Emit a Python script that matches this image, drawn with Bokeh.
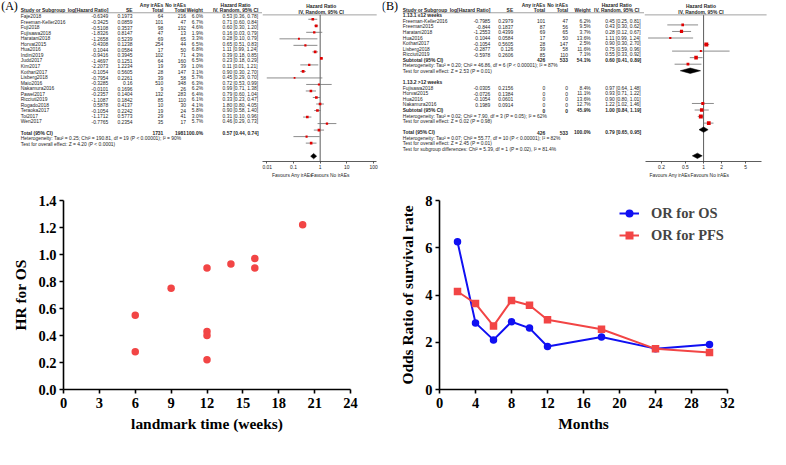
import math
from bokeh.plotting import figure
from bokeh.layouts import row, column
from bokeh.models import (Range1d, FixedTicker, LogAxis, Label, ColumnDataSource,
                          Legend, LegendItem, PrintfTickFormatter, CustomJSTickFormatter)
from bokeh.core.properties import value
from bokeh.embed import file_html
from bokeh.resources import INLINE

# ---------------- data: panel A (overall) ----------------
a_study = ["Faje2018", "Freeman-Keller2016", "Fuji2018", "Fujisawa2018", "Haratani2018",
           "Horvat2015", "Hua2016", "Indini2019", "Judd2017", "Kim2017", "Kothari2017",
           "Lisberg2018", "Maio2016", "Nakamura2016", "Pawel2017", "Ricciuti2019",
           "Rogado2018", "Teraoka2017", "Toi2017", "Wen2017"]
a_loghr = [-0.6349, -0.3425, -0.5108, -1.8326, -1.2658, -0.4308, 0.1044, -0.9416, -1.4697,
           -2.2073, -0.1054, -0.7954, -0.3285, -0.0101, -0.2357, -1.1087, 0.5878, -0.1054,
           -1.1712, -0.7765]
a_se = [0.1973, 0.0859, 0.3537, 0.8147, 0.5239, 0.1238, 0.0584, 0.3945, 0.1251, 1.2234,
        0.5605, 0.2261, 0.16, 0.1696, 0.1404, 0.1842, 0.4137, 0.2242, 0.5773, 0.2354]
a_n1 = [64, 101, 98, 47, 69, 254, 17, 102, 64, 19, 28, 39, 510, 9, 132, 85, 10, 19, 29, 35]
a_n2 = [216, 47, 192, 13, 65, 44, 50, 71, 160, 39, 147, 58, 348, 26, 283, 110, 30, 24, 41, 17]
a_w = [6.0, 6.7, 4.6, 1.9, 3.3, 6.5, 6.8, 4.3, 6.5, 1.0, 3.1, 5.7, 6.3, 6.2, 6.4, 6.1,
       4.1, 5.8, 3.0, 5.7]
a_hr = [0.53, 0.71, 0.60, 0.16, 0.28, 0.65, 1.11, 0.39, 0.23, 0.11, 0.90, 0.45, 0.72, 0.99,
        0.79, 0.33, 1.80, 0.90, 0.31, 0.46]
a_lo = [0.36, 0.60, 0.30, 0.03, 0.10, 0.51, 0.99, 0.18, 0.18, 0.01, 0.30, 0.29, 0.53, 0.71,
        0.60, 0.23, 0.80, 0.58, 0.10, 0.29]
a_hi = [0.78, 0.84, 1.20, 0.79, 0.79, 0.83, 1.24, 0.85, 0.29, 1.21, 2.70, 0.70, 0.99, 1.38,
        1.04, 0.47, 4.05, 1.40, 0.96, 0.73]
a_total = {"n1": 1731, "n2": 1981, "w": 100.0, "hr": 0.57, "lo": 0.44, "hi": 0.74}
a_het = "Heterogeneity: Tau\u00b2 = 0.25; Chi\u00b2 = 190.81, df = 19 (P < 0.00001); I\u00b2 = 90%"
a_test = "Test for overall effect: Z = 4.20 (P < 0.0001)"
a_ticks = [0.01, 0.1, 1, 10, 100]

# ---------------- data: panel B (subgroups by landmark) ----------------
b1_title = "1.13.1 \u226412 weeks"
b1_study = ["Freeman-Keller2016", "Freeman2015", "Haratani2018", "Hua2016", "Kothari2017",
            "Lisberg2018", "Ricciuti2019"]
b1_loghr = [-0.7985, -0.844, -1.2553, 0.1044, -0.1054, -0.2877, -0.5978]
b1_se = [0.2979, 0.1837, 0.4399, 0.0584, 0.5605, 0.126, 0.2606]
b1_n1 = [101, 87, 69, 17, 28, 39, 85]
b1_n2 = [47, 56, 65, 50, 147, 58, 110]
b1_w = [6.2, 9.5, 3.7, 13.6, 2.5, 11.6, 7.1]
b1_hr = [0.45, 0.43, 0.28, 1.11, 0.90, 0.75, 0.55]
b1_lo = [0.25, 0.30, 0.12, 0.99, 0.30, 0.59, 0.33]
b1_hi = [0.81, 0.62, 0.67, 1.24, 2.70, 0.96, 0.92]
b1_sub = {"n1": 426, "n2": 533, "w": 54.1, "hr": 0.60, "lo": 0.41, "hi": 0.89}
b1_het = "Heterogeneity: Tau\u00b2 = 0.20; Chi\u00b2 = 46.86, df = 6 (P < 0.00001); I\u00b2 = 87%"
b1_test = "Test for overall effect: Z = 2.53 (P = 0.01)"

b2_title = "1.13.2 >12 weeks"
b2_study = ["Fujisawa2018", "Horvat2015", "Hua2016", "Nakamura2016"]
b2_loghr = [-0.0305, -0.0726, -0.1054, 0.1989]
b2_se = [0.2156, 0.1384, 0.0601, 0.0914]
b2_n1 = [0, 0, 0, 0]
b2_n2 = [0, 0, 0, 0]
b2_w = [8.4, 11.1, 13.6, 12.7]
b2_hr = [0.97, 0.93, 0.90, 1.22]
b2_lo = [0.64, 0.71, 0.80, 1.02]
b2_hi = [1.48, 1.22, 1.01, 1.46]
b2_sub = {"n1": 0, "n2": 0, "w": 45.9, "hr": 1.00, "lo": 0.84, "hi": 1.19}
b2_het = "Heterogeneity: Tau\u00b2 = 0.02; Chi\u00b2 = 7.90, df = 3 (P = 0.05); I\u00b2 = 62%"
b2_test = "Test for overall effect: Z = 0.02 (P = 0.98)"

b_total = {"n1": 426, "n2": 533, "w": 100.0, "hr": 0.79, "lo": 0.65, "hi": 0.95}
b_het = "Heterogeneity: Tau\u00b2 = 0.07; Chi\u00b2 = 55.77, df = 10 (P < 0.00001); I\u00b2 = 82%"
b_test = "Test for overall effect: Z = 2.45 (P = 0.01)"
b_sub_test = "Test for subgroup differences: Chi\u00b2 = 5.39, df = 1 (P = 0.02), I\u00b2 = 81.4%"
b_ticks = [0.2, 0.5, 1, 2, 5]

# ---------------- data: panel C ----------------
c_weeks = [6, 6, 9, 12, 12, 12, 12, 14, 16, 16, 20]
c_hr = [0.55, 0.28, 0.75, 0.90, 0.43, 0.40, 0.22, 0.93, 0.97, 0.90, 1.22]
c_xticks = [0, 3, 6, 9, 12, 15, 18, 21, 24]
c_yticks = [0.0, 0.2, 0.4, 0.6, 0.8, 1.0, 1.2, 1.4]

# ---------------- data: panel D ----------------
d_months = [2, 4, 6, 8, 10, 12, 18, 24, 30]
d_or_os = [6.25, 2.82, 2.10, 2.87, 2.60, 1.82, 2.22, 1.73, 1.90]
d_or_pfs = [4.15, 3.64, 2.69, 3.77, 3.57, 2.95, 2.55, 1.72, 1.57]
d_xticks = [0, 4, 8, 12, 16, 20, 24, 28, 32]
d_yticks = [0, 2, 4, 6, 8]

# ---------------- layout constants ----------------
W, H = 770, 449
SX, SY = W / 786.0, H / 465.0
H_TOP = 189
H_BOT = H - H_TOP
SANS = "Liberation Sans"
SERIF = "Liberation Serif"
TXT = "#1e1e1e"
FRED = "#e00000"
RED = "#f24545"
BLUE = "#1010f2"
FS = 5.1   # table font (reference px)


def fpx(px):
    return f"{px * SY:.2f}px"


def table_fig(px0, px1):
    p = figure(width=px1 - px0, height=H_TOP, x_range=Range1d(px0 / SX, px1 / SX),
               y_range=Range1d(H_TOP / SY, 0), x_axis_type=None, y_axis_type=None,
               toolbar_location=None, output_backend="svg", min_border=0,
               outline_line_color=None)
    return p


def put_text(p, x, ys, texts, align="left", bold=False, size=FS, font=SANS, color=TXT):
    src = ColumnDataSource(dict(x=[x] * len(ys), y=list(ys), t=[str(t) for t in texts]))
    p.text(x="x", y="y", text="t", source=src, text_align=align, text_baseline="middle",
           text_font=value(font), text_font_size=fpx(size),
           text_font_style="bold" if bold else "normal", text_color=color)


def forest_fig(px0, px1, x_one, dec, frame_px):
    def L(xr):
        return 10 ** ((xr - x_one) / dec)
    p = figure(width=px1 - px0, height=H_TOP, x_axis_type="log", y_axis_type=None,
               x_range=Range1d(L(px0 / SX), L(px1 / SX)), y_range=Range1d(frame_px / SY, 0),
               toolbar_location=None, output_backend="svg", min_border=0,
               min_border_bottom=H_TOP - frame_px, outline_line_color=None)
    p.grid.visible = False
    return p, L


def forest_axis(p, ticks, bounds, fav_pos):
    ax = p.xaxis[0]
    ax.ticker = FixedTicker(ticks=ticks, minor_ticks=[])
    ax.formatter = PrintfTickFormatter(format="%g")
    ax.bounds = bounds
    ax.major_tick_out = 2
    ax.major_tick_in = 0
    ax.minor_tick_line_color = None
    ax.axis_line_width = 0.8
    ax.axis_line_color = "#333333"
    ax.major_tick_line_color = "#333333"
    ax.major_tick_line_width = 0.8
    ax.major_label_text_font = SANS
    ax.major_label_text_font_size = fpx(FS)
    ax.major_label_text_color = TXT
    ax.major_label_standoff = 1
    ax2 = LogAxis(ticker=FixedTicker(ticks=fav_pos, minor_ticks=[]),
                  formatter=CustomJSTickFormatter(
                      code="return index == 0 ? 'Favours Any irAEs' : 'Favours No irAEs';"),
                  axis_line_color=None, major_tick_line_color=None, minor_tick_line_color=None,
                  major_tick_out=0, major_tick_in=0, major_label_standoff=1,
                  major_label_text_font=SANS, major_label_text_font_size=fpx(FS),
                  major_label_text_color=TXT)
    p.add_layout(ax2, "below")


def draw_forest(p, ys, hr, lo, hi, w):
    src = ColumnDataSource(dict(y=ys, hr=hr, lo=lo, hi=hi, s=[1.6 + 0.17 * v for v in w]))
    p.segment(x0="lo", y0="y", x1="hi", y1="y", source=src, line_color="#6e6e6e",
              line_width=0.8)
    p.scatter(x="hr", y="y", size="s", marker="square", source=src, fill_color=FRED,
              line_color=None)


def draw_diamonds(p, ys, summaries, half=2.8):
    xs = [[s["lo"], s["hr"], s["hi"], s["hr"]] for s in summaries]
    yy = [[y, y - half, y, y + half] for y in ys]
    p.patches(xs=xs, ys=yy, fill_color="black", line_color="black", line_width=0.5)


def fmt_ci(hr, lo, hi):
    return f"{hr:.2f} [{lo:.2f}, {hi:.2f}]"


# ================= Panel A =================
A_T0, A_T1, A_F1 = 0, 262, 382
A_FRAME = 161
pa_t = table_fig(A_T0, A_T1)
pa_f, LA = forest_fig(A_T1, A_F1, 326.3, 27.25, A_FRAME)

a_y = [19.45 + 6.75 * k for k in range(len(a_study))]
a_tot_y = 19.45 + 6.75 * 21
a_het_y = a_tot_y + 6.75
a_test_y = a_het_y + 6.75
A_NAME, A_LOG, A_SE, A_N1, A_N2, A_W, A_CI = 20.7, 110, 134.7, 166.2, 189.3, 206.7, 226.7

put_text(pa_t, 9.2, [6.7], ["(A)"], align="center", size=12.5, font=SERIF, color="black")
put_text(pa_t, A_NAME, [12.7], ["Study or Subgroup"], bold=True)
put_text(pa_t, A_LOG, [12.7], ["log[Hazard Ratio]"], align="right", bold=True)
put_text(pa_t, A_SE, [12.7], ["SE"], align="right", bold=True)
put_text(pa_t, A_N1, [6.2, 12.7], ["Any irAEs", "Total"], align="right", bold=True)
put_text(pa_t, A_N2, [6.2, 12.7], ["No irAEs", "Total"], align="right", bold=True)
put_text(pa_t, A_W, [12.7], ["Weight"], align="right", bold=True)
put_text(pa_t, 240.0, [6.2, 12.7], ["Hazard Ratio", "IV, Random, 95% CI"], align="center",
         bold=True)
pa_t.segment(x0=[A_NAME], y0=[14.9], x1=[A_T1 / SX], y1=[14.9], line_color="#8a8a8a",
             line_width=0.8)

put_text(pa_t, A_NAME, a_y, a_study)
put_text(pa_t, A_LOG, a_y, a_loghr, align="right")
put_text(pa_t, A_SE, a_y, a_se, align="right")
put_text(pa_t, A_N1, a_y, a_n1, align="right")
put_text(pa_t, A_N2, a_y, a_n2, align="right")
put_text(pa_t, A_W, a_y, [f"{v:.1f}%" for v in a_w], align="right")
put_text(pa_t, A_CI, a_y, [fmt_ci(h, l, u) for h, l, u in zip(a_hr, a_lo, a_hi)])

put_text(pa_t, A_NAME, [a_tot_y], ["Total (95% CI)"], bold=True)
put_text(pa_t, A_N1, [a_tot_y], [a_total["n1"]], align="right", bold=True)
put_text(pa_t, A_N2, [a_tot_y], [a_total["n2"]], align="right", bold=True)
put_text(pa_t, A_W, [a_tot_y], [f"{a_total['w']:.1f}%"], align="right", bold=True)
put_text(pa_t, A_CI, [a_tot_y], [fmt_ci(a_total["hr"], a_total["lo"], a_total["hi"])],
         bold=True)
put_text(pa_t, A_NAME, [a_het_y, a_test_y], [a_het, a_test])

# forest A
put_text(pa_f, LA(327.4), [6.2, 12.7], ["Hazard Ratio", "IV, Random, 95% CI"],
         align="center", bold=True)
pa_f.segment(x0=[LA(A_T1 / SX)], y0=[14.9], x1=[LA(384)], y1=[14.9], line_color="#8a8a8a",
             line_width=0.8)
pa_f.segment(x0=[1], y0=[14.9], x1=[1], y1=[A_FRAME / SY], line_color="#333333",
             line_width=0.8)
draw_forest(pa_f, a_y, a_hr, a_lo, a_hi, a_w)
draw_diamonds(pa_f, [a_tot_y], [a_total])
forest_axis(pa_f, a_ticks, (0.007, 125), [LA(298.0), LA(336.5)])

# ================= Panel B =================
B_T0, B_T1, B_F1 = 382, 644, 770
pb_t = table_fig(B_T0, B_T1)
pb_f, LB = forest_fig(B_T1, B_F1, 717.7, 61.5, A_FRAME)


def by(k):
    return 18.5 + 6.78 * (k - 1)


B_NAME, B_LOG, B_SE, B_N1, B_N2, B_W, B_CI = 410.7, 500, 523.3, 556, 579.3, 602.5, 617.3

put_text(pb_t, 397.5, [7.0], ["(B)"], align="center", size=12.5, font=SERIF, color="black")
put_text(pb_t, B_NAME, [12.7], ["Study or Subgroup"], bold=True)
put_text(pb_t, B_LOG, [12.7], ["log[Hazard Ratio]"], align="right", bold=True)
put_text(pb_t, B_SE, [12.7], ["SE"], align="right", bold=True)
put_text(pb_t, B_N1, [6.2, 12.7], ["Any irAEs", "Total"], align="right", bold=True)
put_text(pb_t, B_N2, [6.2, 12.7], ["No irAEs", "Total"], align="right", bold=True)
put_text(pb_t, B_W, [12.7], ["Weight"], align="right", bold=True)
put_text(pb_t, 629, [6.2, 12.7], ["Hazard Ratio", "IV, Random, 95% CI"], align="center",
         bold=True)
pb_t.segment(x0=[B_NAME], y0=[14.9], x1=[B_T1 / SX], y1=[14.9], line_color="#8a8a8a",
             line_width=0.8)

b1_y = [by(k) for k in range(2, 2 + len(b1_study))]
b2_y = [by(k) for k in range(14, 14 + len(b2_study))]
groups = [(b1_title, b1_study, b1_loghr, b1_se, b1_n1, b1_n2, b1_w, b1_hr, b1_lo, b1_hi,
           b1_sub, b1_het, b1_test, 1, b1_y),
          (b2_title, b2_study, b2_loghr, b2_se, b2_n1, b2_n2, b2_w, b2_hr, b2_lo, b2_hi,
           b2_sub, b2_het, b2_test, 13, b2_y)]
sub_ys = []
pb_f.segment(x0=[1], y0=[14.9], x1=[1], y1=[A_FRAME / SY], line_color="#333333",
             line_width=0.8)
for (title, st, lg, se, n1, n2, w, hr, lo, hi, sub, het, tst, k0, ys) in groups:
    put_text(pb_t, B_NAME, [by(k0)], [title], bold=True)
    put_text(pb_t, B_NAME, ys, st)
    put_text(pb_t, B_LOG, ys, lg, align="right")
    put_text(pb_t, B_SE, ys, se, align="right")
    put_text(pb_t, B_N1, ys, n1, align="right")
    put_text(pb_t, B_N2, ys, n2, align="right")
    put_text(pb_t, B_W, ys, [f"{v:.1f}%" for v in w], align="right")
    put_text(pb_t, B_CI, ys, [fmt_ci(h, l, u) for h, l, u in zip(hr, lo, hi)])
    sy_ = by(k0 + len(st) + 1)
    sub_ys.append(sy_)
    put_text(pb_t, B_NAME, [sy_], ["Subtotal (95% CI)"], bold=True)
    put_text(pb_t, B_N1, [sy_], [sub["n1"]], align="right", bold=True)
    put_text(pb_t, B_N2, [sy_], [sub["n2"]], align="right", bold=True)
    put_text(pb_t, B_W, [sy_], [f"{sub['w']:.1f}%"], align="right", bold=True)
    put_text(pb_t, B_CI, [sy_], [fmt_ci(sub["hr"], sub["lo"], sub["hi"])], bold=True)
    put_text(pb_t, B_NAME, [by(k0 + len(st) + 2), by(k0 + len(st) + 3)], [het, tst])
    draw_forest(pb_f, ys, hr, lo, hi, w)

b_tot_y = by(22)
put_text(pb_t, B_NAME, [b_tot_y], ["Total (95% CI)"], bold=True)
put_text(pb_t, B_N1, [b_tot_y], [b_total["n1"]], align="right", bold=True)
put_text(pb_t, B_N2, [b_tot_y], [b_total["n2"]], align="right", bold=True)
put_text(pb_t, B_W, [b_tot_y], [f"{b_total['w']:.1f}%"], align="right", bold=True)
put_text(pb_t, B_CI, [b_tot_y], [fmt_ci(b_total["hr"], b_total["lo"], b_total["hi"])],
         bold=True)
put_text(pb_t, B_NAME, [by(23), by(24), by(25)], [b_het, b_test, b_sub_test])

put_text(pb_f, LB(715.0), [6.2, 12.7], ["Hazard Ratio", "IV, Random, 95% CI"],
         align="center", bold=True)
pb_f.segment(x0=[LB(B_T1 / SX)], y0=[14.9], x1=[LB(782)], y1=[14.9], line_color="#8a8a8a",
             line_width=0.8)
draw_diamonds(pb_f, sub_ys + [b_tot_y], [b1_sub, b2_sub, b_total])
forest_axis(pb_f, b_ticks, (0.11, 9.0), [LB(683.3), LB(724.0)])


# ================= Panels C and D =================
def style_xy(p, xt, yt, xlab, ylab, yfmt):
    p.grid.visible = False
    for ax in (p.xaxis[0], p.yaxis[0]):
        ax.axis_line_width = 1.6
        ax.axis_line_color = "black"
        ax.major_tick_line_width = 1.6
        ax.major_tick_line_color = "black"
        ax.major_tick_out = 4
        ax.major_tick_in = 0
        ax.minor_tick_line_color = None
        ax.major_label_text_font = SERIF
        ax.major_label_text_font_style = "bold"
        ax.major_label_text_font_size = fpx(15)
        ax.major_label_text_color = "black"
        ax.axis_label_text_font = SERIF
        ax.axis_label_text_font_style = "bold"
        ax.axis_label_text_font_size = fpx(16)
        ax.axis_label_text_color = "black"
    p.xaxis[0].ticker = FixedTicker(ticks=xt, minor_ticks=[])
    p.yaxis[0].ticker = FixedTicker(ticks=yt, minor_ticks=[])
    p.yaxis[0].formatter = PrintfTickFormatter(format=yfmt)
    p.xaxis[0].axis_label = xlab
    p.yaxis[0].axis_label = ylab
    p.xaxis[0].major_label_standoff = 4
    p.yaxis[0].major_label_standoff = 3
    p.xaxis[0].axis_label_standoff = 4
    p.yaxis[0].axis_label_standoff = 6


C_W = 387
pc = figure(width=C_W, height=H_BOT, x_range=Range1d(0, 24), y_range=Range1d(0, 1.4),
            toolbar_location=None, output_backend="svg", min_border_left=63,
            min_border_right=37, min_border_top=11, min_border_bottom=60,
            outline_line_color=None)
pc.scatter(c_weeks, c_hr, size=7.5, fill_color=RED, line_color=None)
style_xy(pc, c_xticks, c_yticks, "landmark time (weeks)", "HR for OS", "%.1f")
pc.add_layout(Label(x=-4.49, y=1.415, text="(C)", text_font=SERIF,
                    text_font_size=fpx(12.5), text_align="center",
                    text_baseline="middle", text_color="black"))

D_W = W - C_W
pd = figure(width=D_W, height=H_BOT, x_range=Range1d(0, 32), y_range=Range1d(0, 8),
            toolbar_location=None, output_backend="svg", min_border_left=52,
            min_border_right=D_W - 52 - 288, min_border_top=11, min_border_bottom=60,
            outline_line_color=None)
l_os = pd.line(d_months, d_or_os, line_color=BLUE, line_width=2)
s_os = pd.scatter(d_months, d_or_os, marker="circle", size=7.5, fill_color=BLUE,
                  line_color=None)
l_pfs = pd.line(d_months, d_or_pfs, line_color=RED, line_width=2)
s_pfs = pd.scatter(d_months, d_or_pfs, marker="square", size=7.5, fill_color=RED,
                   line_color=None)
style_xy(pd, d_xticks, d_yticks, "Months", "Odds Ratio of survival rate", "%d")
pd.add_layout(Label(x=-4.86, y=8.087, text="(D)", text_font=SERIF,
                    text_font_size=fpx(12.5), text_align="center",
                    text_baseline="middle", text_color="black"))
leg = Legend(items=[LegendItem(label="OR for OS", renderers=[l_os, s_os]),
                    LegendItem(label="OR for PFS", renderers=[l_pfs, s_pfs])],
             location=(180, 144), padding=0, margin=0, spacing=2, glyph_width=20,
             glyph_height=20, label_height=20, label_standoff=12,
             label_text_font=SERIF, label_text_font_style="bold",
             label_text_font_size=fpx(15), border_line_color=None,
             background_fill_alpha=0)
pd.add_layout(leg)

layout = column(row(pa_t, pa_f, pb_t, pb_f), row(pc, pd))
open("out.html", "w").write(file_html(layout, INLINE))
